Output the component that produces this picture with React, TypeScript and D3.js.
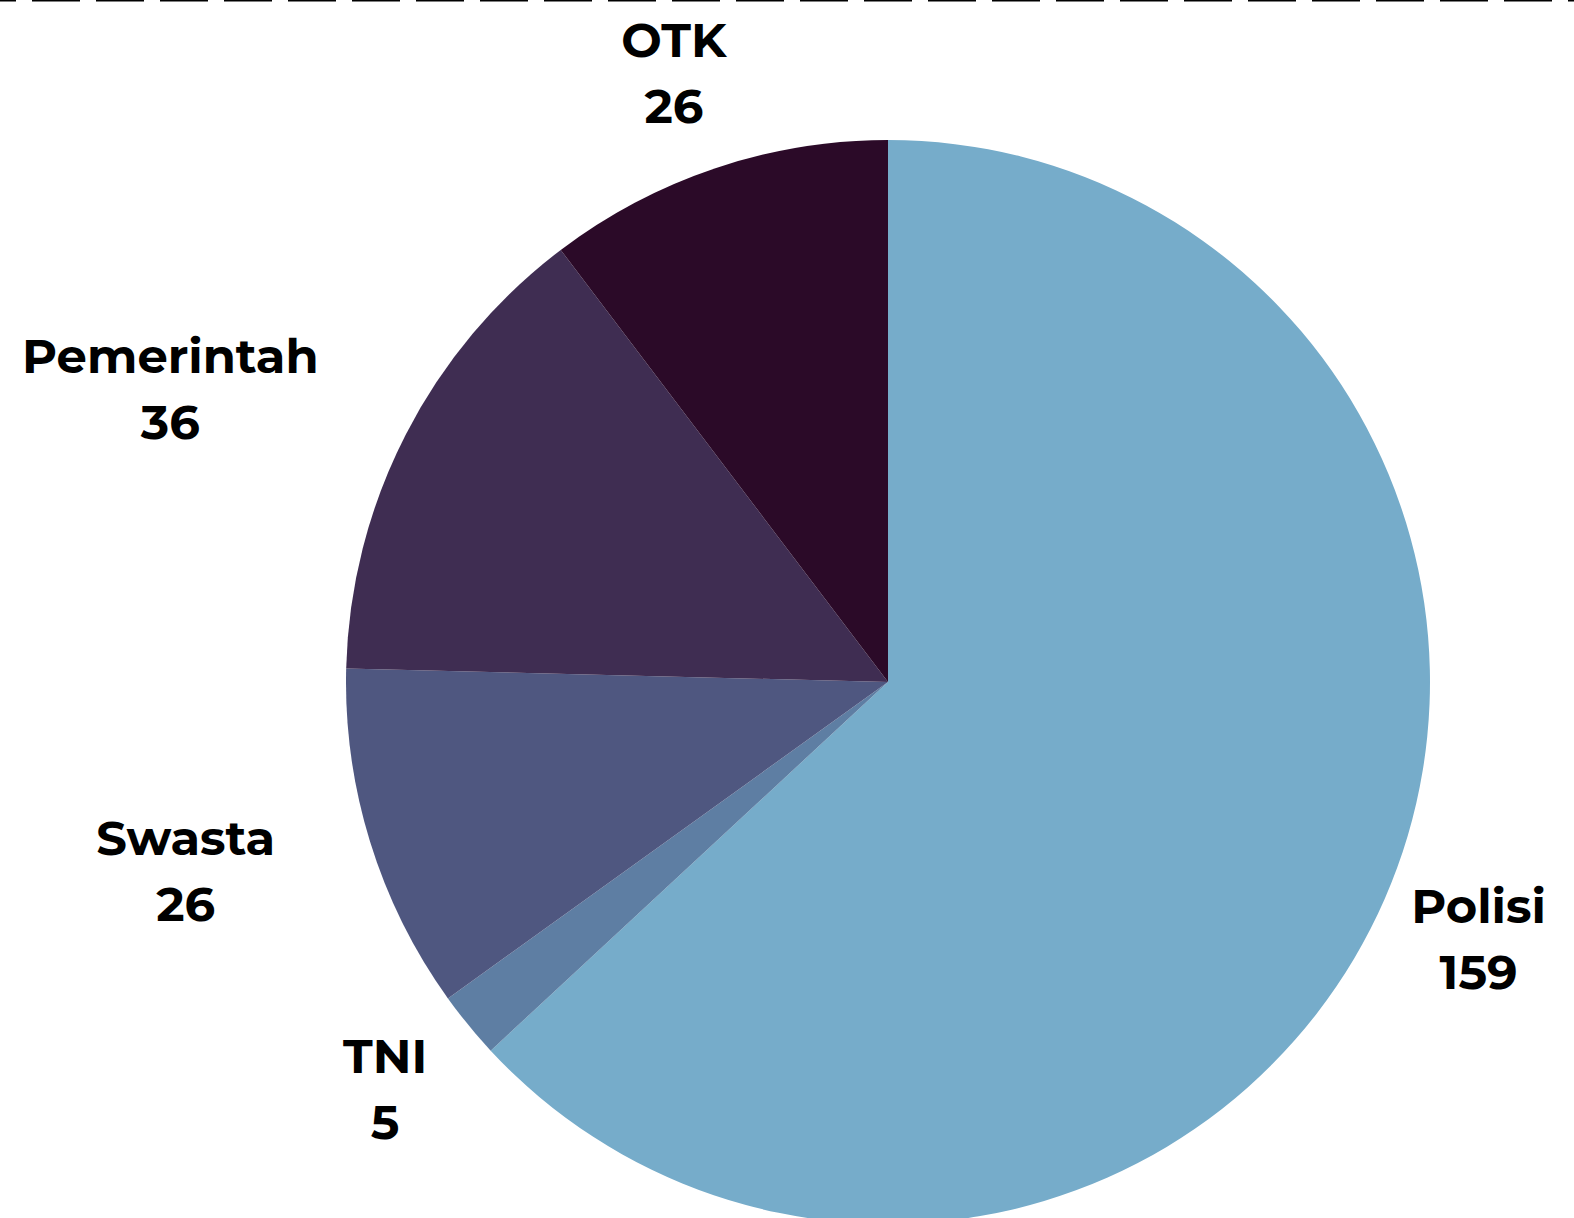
import React, { useEffect, useRef } from 'react';
import * as d3 from 'd3';

const categories = ['Polisi', 'TNI', 'Swasta', 'Pemerintah', 'OTK'];
const counts = [159, 5, 26, 36, 26];
const sliceColors = ['#76acca', '#5e7ea3', '#4f5780', '#3f2d52', '#2b0a28'];

const App = () => {
  const svgRef = useRef<SVGSVGElement | null>(null);

  useEffect(() => {
    const width = 1574;
    const height = 1218;
    const cx = 888;
    const cy = 682;
    const radius = 542;
    const edgeMargin = 22;

    const svg = d3.select(svgRef.current);
    svg.selectAll('*').remove();
    svg.attr('width', width).attr('height', height);

    // dashed rule along the top edge
    svg.append('line')
      .attr('x1', 0)
      .attr('x2', width)
      .attr('y1', 0.5)
      .attr('y2', 0.5)
      .attr('stroke', '#000')
      .attr('stroke-width', 2)
      .attr('stroke-dasharray', '48 16')
      .attr('stroke-dashoffset', 32);

    const data = categories.map((c, i) => ({ name: c, value: counts[i], color: sliceColors[i] }));

    const pie = d3.pie<any>()
      .sort(null)
      .value(d => d.value);

    const arc = d3.arc<any>()
      .innerRadius(0)
      .outerRadius(radius);

    const arcs = pie(data);

    const g = svg.append('g').attr('transform', `translate(${cx},${cy})`);

    g.selectAll('path')
      .data(arcs)
      .enter().append('path')
      .attr('d', arc)
      .attr('fill', d => d.data.color);

    const fontSize = 48;
    const lineGap = 66;
    const labels = g.append('g')
      .attr('font-family', 'Montserrat, "Open Sans", sans-serif')
      .attr('font-weight', 700)
      .attr('font-size', fontSize)
      .attr('fill', '#000')
      .attr('text-anchor', 'middle');

    arcs.forEach(d => {
      const lab = labels.append('g');
      lab.append('text').attr('y', 0).text(d.data.name);
      lab.append('text').attr('y', lineGap).text(d.data.value);
      const box = (lab.node() as SVGGElement).getBBox();
      const mid = (d.startAngle + d.endAngle) / 2;
      const s = Math.sin(mid);
      const c = -Math.cos(mid);
      // wider labels are pushed further out sideways
      let px = (radius + 32 + 0.9 * box.width) * s;
      const py = (radius + 38 + box.height / 2) * c;
      // keep the label inside the picture
      const maxX = width - cx - edgeMargin - 6 - box.width / 2;
      const minX = -cx + edgeMargin + box.width / 2;
      px = Math.max(minX, Math.min(maxX, px));
      const bx = px - (box.x + box.width / 2);
      const by = py - (box.y + box.height / 2);
      lab.attr('transform', `translate(${bx},${by})`);
    });
  }, []);

  return (
    <svg ref={svgRef} style={{ position: 'absolute', left: 0, top: 0, display: 'block', background: '#fff' }}></svg>
  );
};

export default App;
